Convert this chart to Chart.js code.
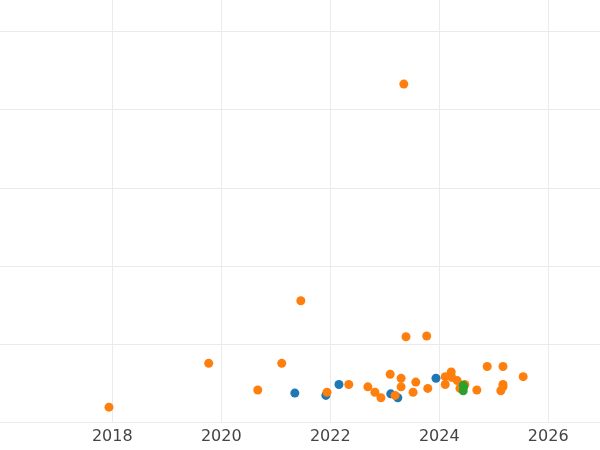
<!DOCTYPE html>
<html>
<head>
<meta charset="utf-8">
<script src="https://cdn.jsdelivr.net/npm/chart.js"></script>
<style>
  html, body { margin: 0; padding: 0; background: #fff; }
  #wrap { width: 600px; height: 450px; }
</style>
</head>
<body>
<div id="wrap"><canvas id="chart"></canvas></div>
<script>
// values (x = year, y = value)
const orangeX = [2017.94, 2019.77, 2020.67, 2021.11, 2021.46, 2021.94, 2022.34, 2022.69, 2022.82, 2022.93,
  2023.10, 2023.19, 2023.30, 2023.30, 2023.35, 2023.39, 2023.52, 2023.57, 2023.77, 2023.79,
  2024.11, 2024.11, 2024.22, 2024.23, 2024.33, 2024.38, 2024.47, 2024.69, 2024.88, 2025.13,
  2025.17, 2025.17, 2025.17, 2025.54]
const orangeY = [0.20, 0.76, 0.42, 0.76, 1.56, 0.39, 0.49, 0.46, 0.39, 0.32,
  0.62, 0.35, 0.57, 0.46, 4.33, 1.10, 0.39, 0.52, 1.11, 0.44,
  0.59, 0.49, 0.65, 0.58, 0.54, 0.44, 0.49, 0.42, 0.72, 0.41,
  0.72, 0.49, 0.46, 0.59]
const blueX = [2021.35, 2021.92, 2022.16, 2023.11, 2023.24, 2023.94, 2024.42]
const blueY = [0.38, 0.35, 0.49, 0.37, 0.32, 0.57, 0.43]
const greenX = [2024.44, 2024.44, 2024.45]
const greenY = [0.48, 0.41, 0.46]
const xTicks = [2018, 2020, 2022, 2024, 2026]
const yTicks = [0, 1, 2, 3, 4, 5]

const toPoints = (xs, ys) => xs.map((x, i) => ({ x: x, y: ys[i] }))

const gridColor = '#ebebeb'

new Chart(document.getElementById('chart'), {
  type: 'scatter',
  data: {
    datasets: [
      { data: toPoints(orangeX, orangeY), backgroundColor: '#ff7f0e', borderWidth: 0, pointRadius: 4.5, order: 1 },
      { data: toPoints(blueX, blueY), backgroundColor: '#1f77b4', borderWidth: 0, pointRadius: 4.5, order: 2 },
      { data: toPoints(greenX, greenY), backgroundColor: '#2ca02c', borderWidth: 0, pointRadius: 4.5, order: 0 }
    ]
  },
  options: {
    responsive: true,
    maintainAspectRatio: false,
    animation: false,
    layout: { padding: 0, autoPadding: false },
    plugins: { legend: { display: false }, tooltip: { enabled: false } },
    scales: {
      x: {
        type: 'linear',
        min: 2015.94,
        max: 2026.95,
        afterBuildTicks: axis => { axis.ticks = xTicks.map(v => ({ value: v })) },
        grid: { color: gridColor, drawTicks: false },
        border: { display: false },
        ticks: {
          padding: 4,
          color: '#444',
          font: { family: 'DejaVu Sans', size: 16 },
          callback: v => String(v)
        }
      },
      y: {
        min: 0,
        max: 5.405,
        afterBuildTicks: axis => { axis.ticks = yTicks.map(v => ({ value: v })) },
        afterFit: axis => { axis.width = 0 },
        grid: { color: gridColor, drawTicks: false },
        border: { display: false },
        ticks: { display: false }
      }
    }
  }
})
</script>
</body>
</html>
